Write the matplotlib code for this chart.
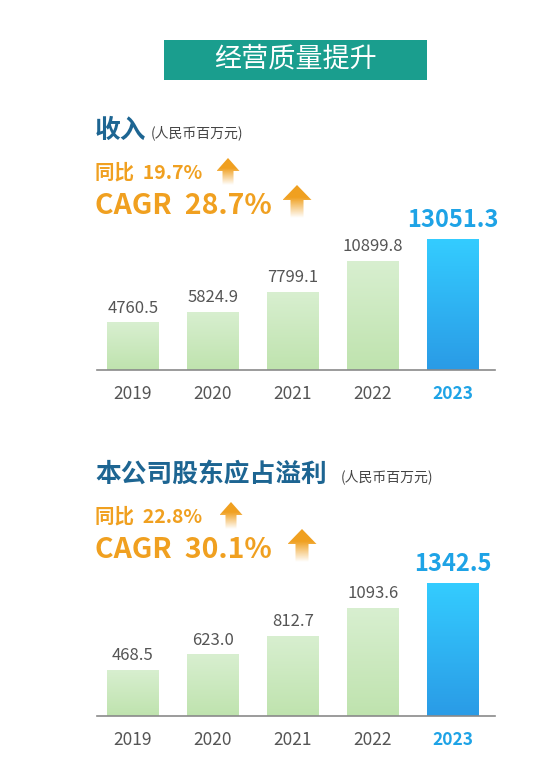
import numpy as np
import matplotlib
matplotlib.use("Agg")
import matplotlib.pyplot as plt
from matplotlib.patches import Rectangle, Polygon
from matplotlib.colors import to_rgb

plt.rcParams['font.family'] = ['Noto Sans CJK SC', 'DejaVu Sans']

# -----------------------------
# Dados
# -----------------------------
years = ["2019", "2020", "2021", "2022", "2023"]
revenue = [4760.5, 5824.9, 7799.1, 10899.8, 13051.3]
profit = [468.5, 623.0, 812.7, 1093.6, 1342.5]

banner_title = "经营质量提升"
titles = ["收入", "本公司股东应占溢利"]
unit = "(人民币百万元)"
yoy = ["19.7%", "22.8%"]
cagr = ["28.7%", "30.1%"]

TEAL = "#1a9e8e"
NAVY = "#1d6592"
ORANGE = "#f0a020"
GREY = "#555555"
BLUE = "#1ea3e6"

W, H = 558, 771
fig = plt.figure(figsize=(W / 100, H / 100), dpi=100)
fig.patch.set_facecolor("white")

# camada de fundo em pixels (textos, faixa, setas)
bg = fig.add_axes([0, 0, 1, 1])
bg.set_xlim(0, W)
bg.set_ylim(H, 0)
bg.axis("off")


def seta(ax, cx, top, bottom, head_w, shaft_w, head_h):
    pts = [(cx, top), (cx + head_w / 2, top + head_h), (cx + shaft_w / 2, top + head_h),
           (cx + shaft_w / 2, bottom), (cx - shaft_w / 2, bottom), (cx - shaft_w / 2, top + head_h),
           (cx - head_w / 2, top + head_h)]
    poly = Polygon(pts, closed=True, facecolor="none", edgecolor="none")
    ax.add_patch(poly)
    rgba = np.zeros((100, 1, 4))
    rgba[..., :3] = to_rgb(ORANGE)
    alpha = np.clip(np.linspace(1.6, 0.0, 100), 0, 1)
    rgba[:, 0, 3] = alpha
    im = ax.imshow(rgba, extent=(cx - head_w / 2, cx + head_w / 2, bottom, top),
                   aspect="auto", interpolation="bilinear")
    im.set_clip_path(poly)


# faixa do título
bg.add_patch(Rectangle((164, 40), 263, 40, facecolor=TEAL, edgecolor="none"))
bg.text(295.5, 59, banner_title, color="white", fontsize=19.5, fontweight="light",
        ha="center", va="center")

# blocos de cabeçalho
header_y = [130, 474]
for i in range(2):
    y0 = header_y[i]
    bg.text(95, y0, titles[i], color=NAVY, fontsize=18.5, fontweight="bold",
            ha="left", va="center")
    x_unit = 151 if i == 0 else 341
    bg.text(x_unit, y0 + 3, unit, color="#444444", fontsize=10, ha="left", va="center")
    bg.text(95, y0 + 43, "同比  " + yoy[i], color=ORANGE, fontsize=14,
            fontweight="bold", ha="left", va="center")
    bg.text(95, y0 + 76, "CAGR  " + cagr[i], color=ORANGE, fontsize=20.5,
            fontweight="bold", ha="left", va="center")
    ax_off = 0 if i == 0 else 3
    seta(bg, 228 + ax_off, y0 + 28, y0 + 55, 23, 11, 13)
    seta(bg, 297 + ax_off + (2 if i else 0), y0 + 55, y0 + 88, 29, 13, 15)


# gráficos de barras
def grafico(rect_px, values, scale_top):
    x0, y0, x1, y1 = rect_px
    ax = fig.add_axes([x0 / W, 1 - y1 / H, (x1 - x0) / W, (y1 - y0) / H])
    ax.patch.set_alpha(0)
    xs = np.arange(len(values))
    bars = ax.bar(xs, values, width=0.64, color="none", edgecolor="none")
    for k, b in enumerate(bars):
        if k == len(values) - 1:
            top_c, bot_c = to_rgb("#34ccff"), to_rgb("#2a9be6")
        else:
            top_c, bot_c = to_rgb("#d8efd0"), to_rgb("#bfe3ae")
        grad = np.linspace(0, 1, 100)[:, None, None]
        img = np.array(top_c)[None, None, :] * (1 - grad) + np.array(bot_c)[None, None, :] * grad
        im = ax.imshow(img, extent=(b.get_x(), b.get_x() + b.get_width(), 0, b.get_height()),
                       aspect="auto", interpolation="bilinear", zorder=2)
        im.set_clip_path(b)
        v = values[k]
        if k == len(values) - 1:
            ax.annotate(f"{v:.1f}", (b.get_x() + b.get_width() / 2, v), xytext=(0, 5),
                        textcoords="offset points", ha="center", va="bottom",
                        color=BLUE, fontsize=17, fontweight="bold")
        else:
            ax.annotate(f"{v:.1f}", (b.get_x() + b.get_width() / 2, v), xytext=(0, 4),
                        textcoords="offset points", ha="center", va="bottom",
                        color=GREY, fontsize=12)
    ax.set_xlim(-0.45, 4.525)
    ax.set_ylim(0, scale_top)
    for s in ["top", "right", "left"]:
        ax.spines[s].set_visible(False)
    ax.spines["bottom"].set_color("#8a8a8a")
    ax.spines["bottom"].set_linewidth(1.2)
    ax.set_yticks([])
    ax.set_xticks(xs)
    ax.set_xticklabels(years)
    ax.tick_params(axis="x", length=0, pad=11, labelsize=12.5, labelcolor=GREY)
    lab = ax.get_xticklabels()[-1]
    lab.set_color(BLUE)
    lab.set_fontweight("bold")
    return ax


grafico((97, 230, 495, 370), revenue, 140 * 99.7)
grafico((97, 576, 495, 716), profit, 140 * 10.1)

fig.savefig("out.png", dpi=100)
